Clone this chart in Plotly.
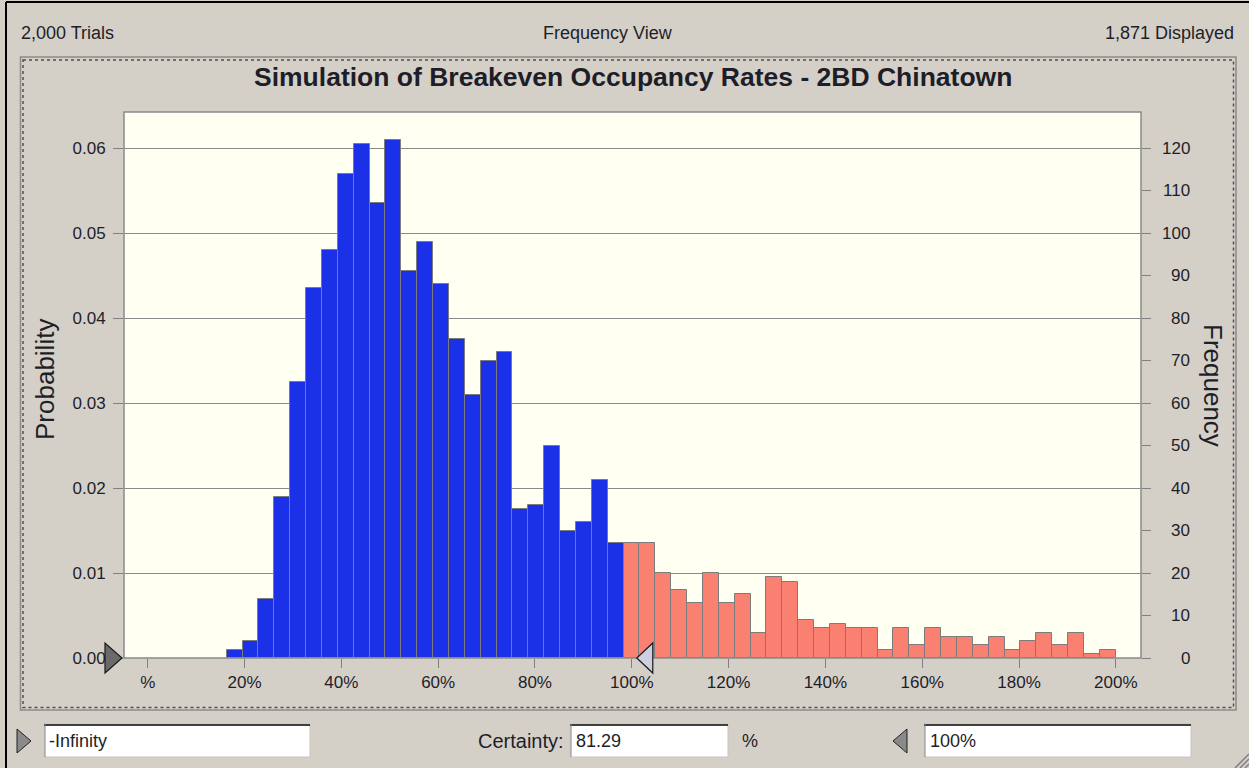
import plotly.graph_objects as go

# ---- simulation summary -------------------------------------------------
trials = 2000
displayed = 1871
certainty = 81.29
lower_bound_text = "-Infinity"
upper_bound = 100.0  # percent

# Histogram bins (occupancy rate, %)
bin_start = 16.3
bin_width = 3.28
freq = [2, 4, 14, 38, 65, 87, 96, 114, 121, 107, 122, 91, 98, 88, 75, 62,
        70, 72, 35, 36, 50, 30, 32, 42, 27,
        27, 27, 20, 16, 13, 20, 13, 15, 6, 19, 18, 9, 7, 8, 7, 7, 2, 7, 3,
        7, 5, 5, 3, 5, 2, 4, 6, 3, 6, 1, 2]

x_ticks = [0, 20, 40, 60, 80, 100, 120, 140, 160, 180, 200]
x_tick_text = ["%", "20%", "40%", "60%", "80%", "100%", "120%", "140%",
               "160%", "180%", "200%"]
prob_ticks = [0.00, 0.01, 0.02, 0.03, 0.04, 0.05, 0.06]
freq_ticks = [0, 10, 20, 30, 40, 50, 60, 70, 80, 90, 100, 110, 120]

# ---- derived values -----------------------------------------------------
centers = [bin_start + bin_width * (i + 0.5) for i in range(len(freq))]
upper_edges = [bin_start + bin_width * (i + 1) for i in range(len(freq))]
prob = [f / trials for f in freq]
BLUE = "#1b31e8"
SALMON = "#fa8072"
colors = [BLUE if e <= upper_bound else SALMON for e in upper_edges]

# ---- page geometry (pixels) --------------------------------------------
W, H = 1249, 768
PL, PR, PT, PB = 124, 1141, 112, 658
x_range = [-4.9, 205.2]
y_top = 0.06424


def fx(px):
    return (px - PL) / (PR - PL)


def fy(py):
    return (PB - py) / (PB - PT)


def data_to_paper_x(v):
    return (v - x_range[0]) / (x_range[1] - x_range[0])


FONT = "Arial, Liberation Sans, sans-serif"
TXT = "#1e1e28"
BG = "#d4d0c8"

fig = go.Figure()

fig.add_trace(go.Bar(
    x=centers, y=prob, width=bin_width,
    marker=dict(color=colors, line=dict(color="#7c7c7c", width=1)),
    hoverinfo="x+y", showlegend=False,
))
# frequency scale shares the same bars
fig.add_trace(go.Scatter(
    x=centers, y=freq, yaxis="y2", mode="markers",
    marker=dict(opacity=0), hoverinfo="skip", showlegend=False,
))

fig.update_layout(
    width=W, height=H,
    margin=dict(l=PL, r=W - PR, t=PT, b=H - PB),
    paper_bgcolor=BG, plot_bgcolor="#fffff2",
    bargap=0,
    font=dict(family=FONT, size=17, color=TXT),
    xaxis=dict(
        range=x_range, tickmode="array", tickvals=x_ticks, ticktext=x_tick_text,
        ticks="outside", ticklen=9, tickcolor="#808080", showgrid=False,
        zeroline=False, showline=False, tickfont=dict(size=17),
    ),
    yaxis=dict(
        range=[0, y_top], tickmode="array", tickvals=prob_ticks,
        ticktext=["%.2f" % v for v in prob_ticks],
        ticks="outside", ticklen=10, tickcolor="#808080",
        showgrid=True, gridcolor="#8a8a8a", gridwidth=1,
        zeroline=False, showline=False, tickfont=dict(size=17),
        ticklabelstandoff=4,
    ),
    yaxis2=dict(
        range=[0, y_top * trials], overlaying="y", side="right",
        tickmode="array", tickvals=freq_ticks, showticklabels=False,
        ticks="outside", ticklen=9, tickcolor="#808080",
        showgrid=False, zeroline=False, showline=False,
    ),
)

shapes = []
# window border
shapes.append(dict(type="line", xref="paper", yref="paper",
                   x0=fx(6), x1=fx(6), y0=fy(2), y1=fy(768),
                   line=dict(color="#000000", width=2)))
shapes.append(dict(type="line", xref="paper", yref="paper",
                   x0=fx(6), x1=fx(1249), y0=fy(2), y1=fy(2),
                   line=dict(color="#000000", width=2)))
# chart panel frame: solid then dotted
shapes.append(dict(type="rect", xref="paper", yref="paper",
                   x0=fx(20.5), x1=fx(1236), y0=fy(57), y1=fy(710),
                   line=dict(color="#8a8a8a", width=1.5)))
shapes.append(dict(type="rect", xref="paper", yref="paper",
                   x0=fx(23), x1=fx(1233.5), y0=fy(60), y1=fy(707.5),
                   line=dict(color="#505050", width=1.5, dash="dot")))
# plot area border
shapes.append(dict(type="rect", xref="paper", yref="paper",
                   x0=0, x1=1, y0=0, y1=1,
                   line=dict(color="#8a8a8a", width=1.5)))
# lower bound marker (left edge of the axis)
shapes.append(dict(type="path", xref="paper", yref="paper",
                   xsizemode="pixel", ysizemode="pixel", xanchor=0, yanchor=0,
                   path="M -19,-15 L -2,0 L -19,15 Z",
                   fillcolor="#6a6a6a", line=dict(color="#1a1a1a", width=1.2)))
# upper bound marker at 100%
shapes.append(dict(type="path", xref="paper", yref="paper",
                   xsizemode="pixel", ysizemode="pixel",
                   xanchor=data_to_paper_x(upper_bound), yanchor=0,
                   path="M 5,0 L 21,-15 L 21,15 Z",
                   fillcolor="#cfcfe2", line=dict(color="#1a1a1a", width=1.2)))


def text_box(x0, x1, y0, y1):
    shapes.append(dict(type="rect", xref="paper", yref="paper",
                       x0=fx(x0), x1=fx(x1), y0=fy(y0), y1=fy(y1),
                       fillcolor="#ffffff", line=dict(color="#c8c4bc", width=1)))
    shapes.append(dict(type="line", xref="paper", yref="paper",
                       x0=fx(x0), x1=fx(x1), y0=fy(y0 + 1), y1=fy(y0 + 1),
                       line=dict(color="#404040", width=2)))
    shapes.append(dict(type="line", xref="paper", yref="paper",
                       x0=fx(x0 + 1), x1=fx(x0 + 1), y0=fy(y0), y1=fy(y1),
                       line=dict(color="#808080", width=1)))


text_box(44, 310, 724, 757)
text_box(570, 728, 724, 757)
text_box(924, 1191, 724, 757)

# bound arrows beside the entry boxes
shapes.append(dict(type="path", xref="paper", yref="paper",
                   path="M %f,%f L %f,%f L %f,%f Z" % (
                       fx(17), fy(729), fx(31), fy(741), fx(17), fy(753)),
                   fillcolor="#8a8a8a", line=dict(color="#202020", width=1)))
shapes.append(dict(type="path", xref="paper", yref="paper",
                   path="M %f,%f L %f,%f L %f,%f Z" % (
                       fx(907), fy(729), fx(893), fy(741), fx(907), fy(753)),
                   fillcolor="#8a8a8a", line=dict(color="#202020", width=1)))
# resize grip
for k in (4, 9, 14):
    shapes.append(dict(type="line", xref="paper", yref="paper",
                       x0=fx(1249 - k), x1=fx(1249), y0=fy(768), y1=fy(768 - k),
                       line=dict(color="#808080", width=1.5)))

fig.update_layout(shapes=shapes)

ann = []


def label(px, py, text, anchor="left", size=18, bold=False, angle=0):
    ann.append(dict(xref="paper", yref="paper", x=fx(px), y=fy(py),
                    text="<b>%s</b>" % text if bold else text,
                    xanchor=anchor, yanchor="middle", showarrow=False,
                    textangle=angle,
                    font=dict(family=FONT, size=size, color=TXT)))


label(19, 33, "{:,} Trials".format(trials))
label(608, 33, "Frequency View", anchor="center")
label(1236, 33, "{:,} Displayed".format(displayed), anchor="right")
label(633, 77, "Simulation of Breakeven Occupancy Rates - 2BD Chinatown",
      anchor="center", size=26.5, bold=True)
label(45, 380, "Probability", anchor="center", size=26, angle=-90)
label(1213, 385, "Frequency", anchor="center", size=26, angle=90)
label(47, 741, lower_bound_text)
label(566, 741, "Certainty:", anchor="right", size=20)
label(574, 741, "%.2f" % certainty)
label(750, 741, "%", anchor="center")
label(928, 741, "%d%%" % upper_bound)

# frequency tick labels, right aligned beside the secondary axis
for v in freq_ticks:
    ann.append(dict(xref="paper", yref="y2", x=fx(1192), y=v, text=str(v),
                    xanchor="right", yanchor="middle", showarrow=False,
                    font=dict(family=FONT, size=17, color=TXT)))

fig.update_layout(annotations=ann)

fig.write_html("out.html")
